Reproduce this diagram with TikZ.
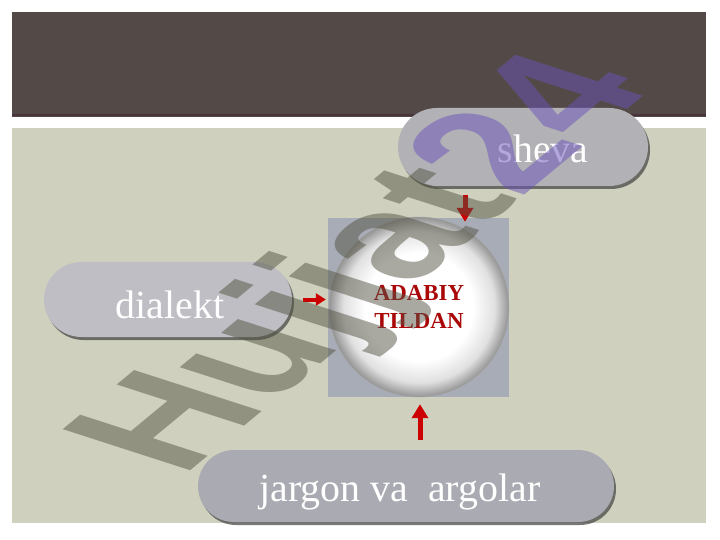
\documentclass[tikz,border=0pt]{standalone}
\usepackage{fontspec}
\setmainfont{Liberation Serif}
\newfontfamily\stampfont{Liberation Sans}
\usetikzlibrary{shapes.misc,shadows,arrows.meta,calc}
\definecolor{umber}{RGB}{83,74,72}
\definecolor{mulberry}{RGB}{72,52,60}
\definecolor{sage}{RGB}{207,209,190}
\definecolor{pebble}{RGB}{178,178,182}
\definecolor{mist}{RGB}{190,190,196}
\definecolor{slate}{RGB}{170,170,178}
\definecolor{steel}{RGB}{168,172,182}
\definecolor{garnet}{RGB}{170,8,8}
\definecolor{crimson}{RGB}{204,0,0}
\definecolor{olivegray}{RGB}{84,84,68}
\definecolor{amethyst}{RGB}{105,82,184}
\pgfdeclareradialshading{orb}{\pgfpoint{0bp}{0bp}}{color(0bp)=(white); color(15bp)=(white); color(21bp)=(black!12); color(25bp)=(black!42); color(50bp)=(black!42)}

\begin{document}
\begin{tikzpicture}[x=1bp, y=-1bp,
    pill/.style={rounded rectangle, inner sep=0pt, draw=none,
      drop shadow={shadow xshift=2bp, shadow yshift=-3bp, fill=black!75, opacity=0.7}},
    pilltext/.style={anchor=base, inner sep=0pt, text=white, font=\fontsize{40}{48}\selectfont},
    inarrow/.style={draw=crimson, line width=5bp, -{Triangle[length=14bp, width=16bp]}}]
            % Page and panels
            \fill[white] (0,0) rectangle (720,540);
            \useasboundingbox (0,0) rectangle (720,540);
            \fill[umber] (12,12) rectangle (706,117);
            \draw[mulberry, line width=2bp] (12,115) -- (706,115);
            \fill[sage] (12,128) rectangle (706,523);
            % Centre
            \node[fill=steel, minimum width=181bp, minimum height=179bp, inner sep=0pt] (backsq) at (418.5,307.5) {};
            \node[circle, minimum size=180bp, inner sep=0pt, shade, shading=orb, draw=black!35, thin,
                  align=center, text=garnet, font=\bfseries\fontsize{23}{28}\selectfont] (core) at (419,307) {ADABIY\\TILDAN};
            % Outer terms
            \node[pill, fill=pebble, minimum width=250bp, minimum height=78bp] (sheva) at (523,147) {};
            \node[pill, fill=mist,   minimum width=248bp, minimum height=75bp] (dialekt) at (168,299.5) {};
            \node[pill, fill=slate,  minimum width=416bp, minimum height=72bp] (jargon) at (406,486) {};
            \node[pilltext] (shevatext)   at ($(sheva.center)+(20,16)$)   {sheva};
            \node[pilltext] (dialekttext) at ($(dialekt.center)+(2,18.5)$) {dialekt};
            \node[pilltext] (jargontext)  at ($(jargon.center)+(-6,15)$)  {jargon va\ \ argolar};
            % Arrows into the centre
            \coordinate (topx) at (465,0);
            \coordinate (botx) at (420,0);
            \draw[inarrow, shorten <=9bp, shorten >=-4bp] (sheva.south -| topx) -- (backsq.north -| topx);
            \draw[inarrow, line width=4bp, -{Triangle[length=10bp, width=12bp]}, shorten <=11bp, shorten >=2bp]
                 (dialekt.east) -- (dialekt.east -| backsq.west);
            \draw[inarrow, shorten <=10bp, shorten >=7bp] (jargon.north -| botx) -- (backsq.south -| botx);
            % Watermark
            \node[cm={12.2,10.1,-18.6,6.0,(180,480)}, transform shape, anchor=base west, inner sep=0pt,
                  text opacity=0.5, font=\stampfont\bfseries\fontsize{10}{12}\selectfont] (stamp) at (0,0)
                 {\textcolor{olivegray}{Hujjat}\textcolor{amethyst}{24}};
\end{tikzpicture}
\end{document}
